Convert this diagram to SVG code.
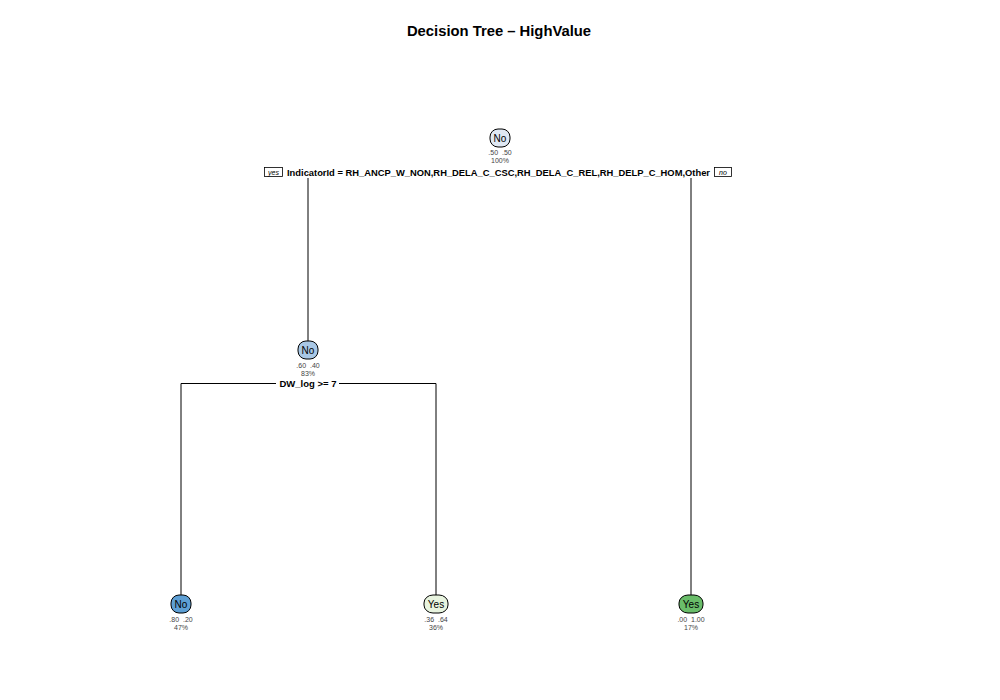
<svg xmlns="http://www.w3.org/2000/svg" width="1000" height="700" viewBox="0 0 1000 700">
<style>
text{font-family:"Liberation Sans",Arial,sans-serif;}
.title{font-size:14.8px;font-weight:bold;fill:#000;}
.split{font-size:9.5px;font-weight:bold;fill:#000;}
.box{stroke:#000;stroke-width:1;}
.cls{font-size:10px;fill:#000;text-anchor:middle;}
.prob{font-size:7px;fill:#444;text-anchor:middle;white-space:pre;}
.yn{font-size:7px;font-style:italic;fill:#000;text-anchor:middle;}
.tag{fill:#fff;stroke:#000;stroke-width:0.8;}
.edge{stroke:#000;stroke-width:1;fill:none;}
</style>
<rect width="1000" height="700" fill="#fff"/>
<text class="title" x="499" y="36" text-anchor="middle">Decision Tree – HighValue</text>
<g id="connectors">
<line class="edge" x1="308" y1="178" x2="308" y2="341"/>
<line class="edge" x1="691" y1="178" x2="691" y2="595"/>
<polyline class="edge" points="276,383.5 181,383.5 181,595"/>
<polyline class="edge" points="339,383.5 436,383.5 436,595"/>
</g>
<g id="node1">
<rect class="box" x="490" y="129" width="20" height="18" rx="8" ry="8" fill="#dfe8f3"/>
<text class="cls" x="500" y="141.5">No</text>
<text class="prob" x="500" y="155" xml:space="preserve">.50  .50</text>
<text class="prob" x="500" y="163">100%</text>
<rect class="tag" x="264.5" y="167.5" width="18" height="9"/>
<text class="yn" x="273.5" y="175">yes</text>
<text class="split" x="287" y="175.5" textLength="423" lengthAdjust="spacingAndGlyphs">IndicatorId = RH_ANCP_W_NON,RH_DELA_C_CSC,RH_DELA_C_REL,RH_DELP_C_HOM,Other</text>
<rect class="tag" x="714.5" y="167.5" width="17" height="9"/>
<text class="yn" x="723" y="175">no</text>
</g>
<g id="node2">
<rect class="box" x="298" y="341" width="20" height="18" rx="8" ry="8" fill="#a9c8e6"/>
<text class="cls" x="308" y="353.5">No</text>
<text class="prob" x="308" y="368" xml:space="preserve">.60  .40</text>
<text class="prob" x="308" y="376">83%</text>
<text class="split" x="308" y="387" text-anchor="middle">DW_log &gt;= 7</text>
</g>
<g id="node4">
<rect class="box" x="171" y="595" width="20" height="18" rx="8" ry="8" fill="#5e9fd4"/>
<text class="cls" x="181" y="607.5">No</text>
<text class="prob" x="181" y="622" xml:space="preserve">.80  .20</text>
<text class="prob" x="181" y="630">47%</text>
</g>
<g id="node5">
<rect class="box" x="424" y="595" width="24" height="18" rx="9" ry="8" fill="#e8f4df"/>
<text class="cls" x="436" y="607.5">Yes</text>
<text class="prob" x="436" y="622" xml:space="preserve">.36  .64</text>
<text class="prob" x="436" y="630">36%</text>
</g>
<g id="node3">
<rect class="box" x="679" y="595" width="24" height="18" rx="9" ry="8" fill="#6abd6a"/>
<text class="cls" x="691" y="607.5">Yes</text>
<text class="prob" x="691" y="622" xml:space="preserve">.00  1.00</text>
<text class="prob" x="691" y="630">17%</text>
</g>
</svg>
